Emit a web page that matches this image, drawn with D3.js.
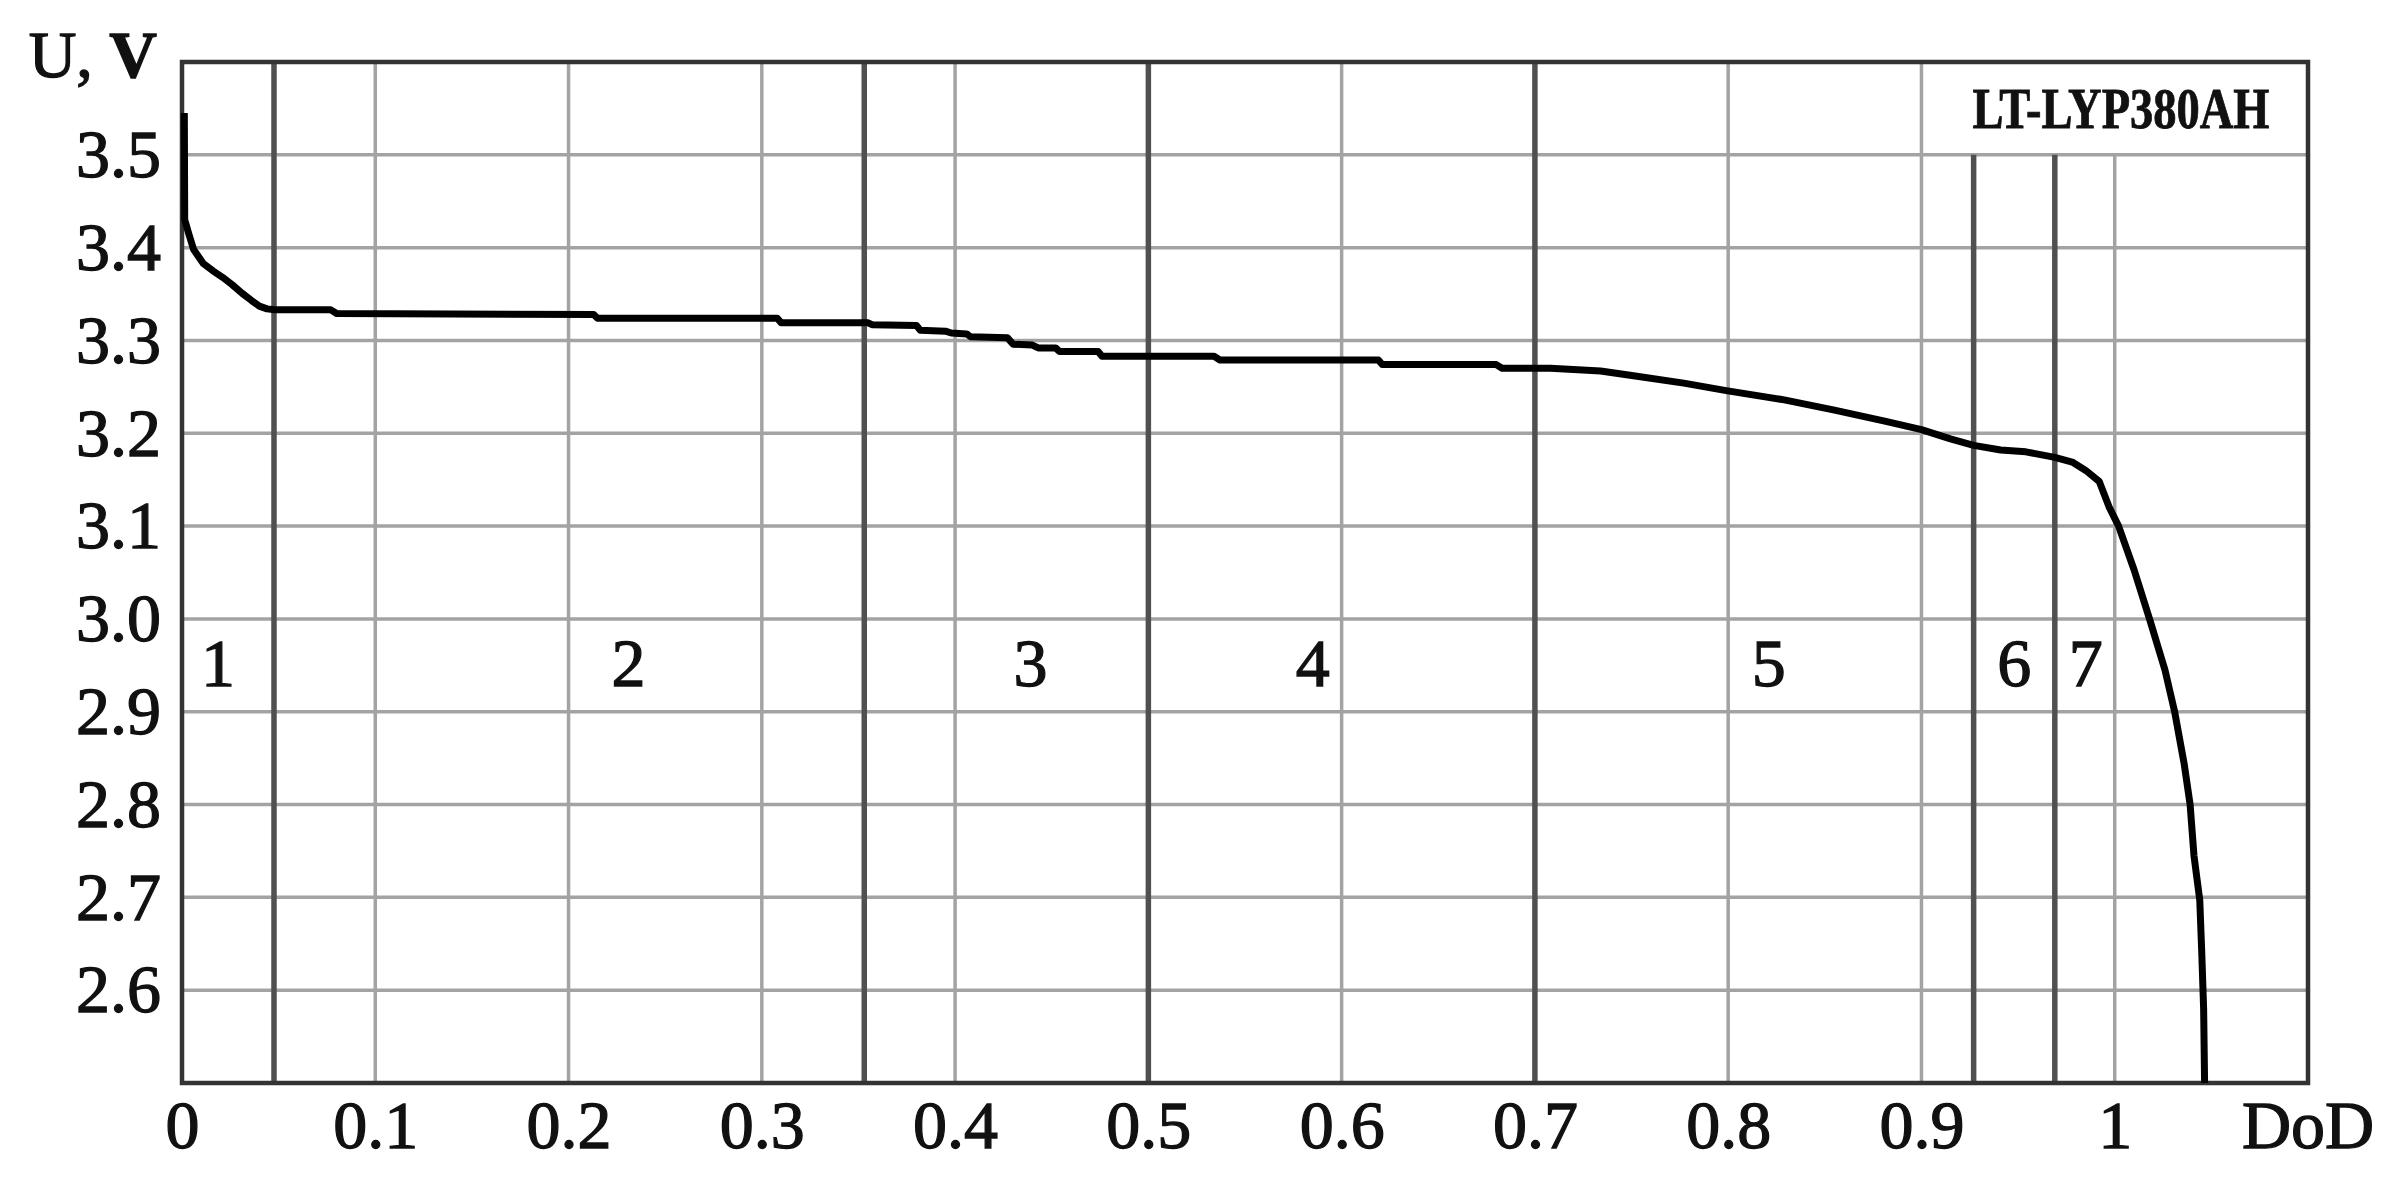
<!DOCTYPE html>
<html>
<head>
<meta charset="utf-8">
<script src="https://cdn.jsdelivr.net/npm/d3@7"></script>
<style>
  html, body { margin: 0; padding: 0; background: #ffffff; }
  .chart text {
    font-family: "Liberation Serif", "Times New Roman", serif;
    fill: #111;
    stroke: #111;
    stroke-width: 1.3px;
  }
</style>
</head>
<body>
<div class="chart"></div>
<script>
// Data
//= ================================
var dod = [0.0012, 0.0014, 0.0035, 0.006, 0.011, 0.016, 0.021, 0.026, 0.031, 0.036, 0.040, 0.044, 0.048,
  0.077, 0.080, 0.213, 0.215, 0.308, 0.310, 0.355, 0.357, 0.380, 0.382, 0.395, 0.398, 0.406, 0.408,
  0.427, 0.430, 0.440, 0.443, 0.452, 0.454, 0.474, 0.476, 0.534, 0.537, 0.619, 0.621, 0.680, 0.683,
  0.708, 0.734, 0.751, 0.777, 0.799, 0.829, 0.855, 0.881, 0.900, 0.915, 0.927, 0.941, 0.954, 0.969,
  0.978, 0.985, 0.992, 0.997, 1.002, 1.010, 1.018, 1.026, 1.031, 1.036, 1.039, 1.041, 1.044, 1.045,
  1.046, 1.0465];
var voltage = [3.545, 3.430, 3.415, 3.398, 3.383, 3.375, 3.368, 3.360, 3.351, 3.343, 3.337, 3.334, 3.333,
  3.333, 3.329, 3.328, 3.324, 3.324, 3.319, 3.319, 3.317, 3.316, 3.311, 3.310, 3.308, 3.307, 3.304,
  3.303, 3.296, 3.295, 3.292, 3.292, 3.288, 3.288, 3.283, 3.283, 3.279, 3.279, 3.274, 3.274, 3.270,
  3.270, 3.267, 3.262, 3.254, 3.246, 3.236, 3.225, 3.213, 3.204, 3.194, 3.187, 3.182, 3.180, 3.174,
  3.169, 3.160, 3.148, 3.121, 3.100, 3.053, 3.000, 2.945, 2.900, 2.843, 2.800, 2.745, 2.697, 2.642,
  2.580, 2.500];

// region boundaries (DoD) and the region numbers
var regionBounds = [0.0476, 0.353, 0.5, 0.7, 0.927, 0.969];
var regionNames = ["1", "2", "3", "4", "5", "6", "7"];
var regionLabelX = [0.0186, 0.231, 0.439, 0.585, 0.821, 0.948, 0.985];
var regionLabelV = 2.953;

var xTicks = [0, 0.1, 0.2, 0.3, 0.4, 0.5, 0.6, 0.7, 0.8, 0.9, 1];
var yTicks = [2.6, 2.7, 2.8, 2.9, 3.0, 3.1, 3.2, 3.3, 3.4, 3.5];
var cellName = "LT-LYP380AH";

// Step 0: Set up our chart
//= ================================
var svgWidth = 2406;
var svgHeight = 1194;

var margin = { top: 62, right: 98, bottom: 111, left: 182 };

var width = svgWidth - margin.left - margin.right;
var height = svgHeight - margin.top - margin.bottom;

var svg = d3
  .select(".chart")
  .append("svg")
  .attr("width", svgWidth)
  .attr("height", svgHeight)
  .style("display", "block");

svg.append("rect").attr("width", svgWidth).attr("height", svgHeight).attr("fill", "#ffffff");

var chart = svg.append("g")
  .attr("transform", "translate(" + margin.left + "," + margin.top + ")");

var xScale = d3.scaleLinear().domain([0, 1.1]).range([0, width]);
var yScale = d3.scaleLinear().domain([2.5, 3.6]).range([height, 0]);

// the name box sits in the top right corner, from DoD 0.9 down to 3.5 V
var boxLeft = 0.9;
var boxBottom = 3.5;

// horizontal grid
chart.append("g")
  .selectAll("line")
  .data(yTicks)
  .enter()
  .append("line")
  .attr("x1", 0)
  .attr("x2", width)
  .attr("y1", function(d) { return yScale(d); })
  .attr("y2", function(d) { return yScale(d); })
  .attr("stroke", "#a3a3a3")
  .attr("stroke-width", 3.5);

// vertical grid (lines inside the name box stop at its lower edge)
chart.append("g")
  .selectAll("line")
  .data(xTicks.filter(function(d) { return d > 0; }))
  .enter()
  .append("line")
  .attr("x1", function(d) { return xScale(d); })
  .attr("x2", function(d) { return xScale(d); })
  .attr("y1", function(d) { return d > boxLeft + 1e-9 ? yScale(boxBottom) : 0; })
  .attr("y2", height)
  .attr("stroke", "#a3a3a3")
  .attr("stroke-width", 3.5);

// region boundaries
chart.append("g")
  .selectAll("line")
  .data(regionBounds)
  .enter()
  .append("line")
  .attr("x1", function(d) { return xScale(d); })
  .attr("x2", function(d) { return xScale(d); })
  .attr("y1", function(d) { return d > boxLeft ? yScale(boxBottom) : 0; })
  .attr("y2", height)
  .attr("stroke", "#505050")
  .attr("stroke-width", 5.5);

// frame
chart.append("rect")
  .attr("x", 0)
  .attr("y", 0)
  .attr("width", width)
  .attr("height", height)
  .attr("fill", "none")
  .attr("stroke", "#333333")
  .attr("stroke-width", 4.5);

// discharge curve
var points = dod.map(function(d, i) { return [d, voltage[i]]; });
var line = d3.line()
  .x(function(d) { return xScale(d[0]); })
  .y(function(d) { return yScale(d[1]); });

chart.append("path")
  .datum(points)
  .attr("d", line)
  .attr("fill", "none")
  .attr("stroke", "#000000")
  .attr("stroke-width", 7)
  .attr("stroke-linejoin", "round");

// region numbers
chart.append("g")
  .selectAll("text")
  .data(regionNames)
  .enter()
  .append("text")
  .attr("x", function(d, i) { return xScale(regionLabelX[i]); })
  .attr("y", yScale(regionLabelV))
  .attr("dy", "0.35em")
  .attr("text-anchor", "middle")
  .style("font-size", "68px")
  .text(function(d) { return d; });

// name of the cell
chart.append("text")
  .attr("x", xScale(boxLeft) + 51)
  .attr("y", 66)
  .attr("textLength", 297)
  .attr("lengthAdjust", "spacingAndGlyphs")
  .style("font-size", "56px")
  .style("font-weight", "bold")
  .style("stroke-width", "0.8px")
  .text(cellName);

// axes
var bottomAxis = d3.axisBottom(xScale)
  .tickValues(xTicks)
  .tickSize(0)
  .tickPadding(17)
  .tickFormat(function(d) { return d3.format("~g")(d); });
var leftAxis = d3.axisLeft(yScale)
  .tickValues(yTicks)
  .tickSize(0)
  .tickPadding(21)
  .tickFormat(d3.format(".1f"));

var xAxisG = chart.append("g")
  .attr("transform", "translate(0," + height + ")")
  .call(bottomAxis);
var yAxisG = chart.append("g").call(leftAxis);

[xAxisG, yAxisG].forEach(function(g) {
  g.select(".domain").remove();
  g.selectAll("text")
    .attr("fill", "#111")
    .style("font-family", "'Liberation Serif', serif")
    .style("font-size", "68px");
});

// x-axis label
chart.append("text")
  .attr("x", xScale(1.1))
  .attr("y", height + 17)
  .attr("dy", "0.71em")
  .attr("text-anchor", "middle")
  .style("font-size", "68px")
  .text("DoD");

// y-axis label
var yLabel = svg.append("text")
  .attr("x", 157)
  .attr("y", 77)
  .attr("text-anchor", "end")
  .style("font-size", "66px");
yLabel.append("tspan").text("U, ");
yLabel.append("tspan").style("font-weight", "bold").text("V");
</script>
</body>
</html>
